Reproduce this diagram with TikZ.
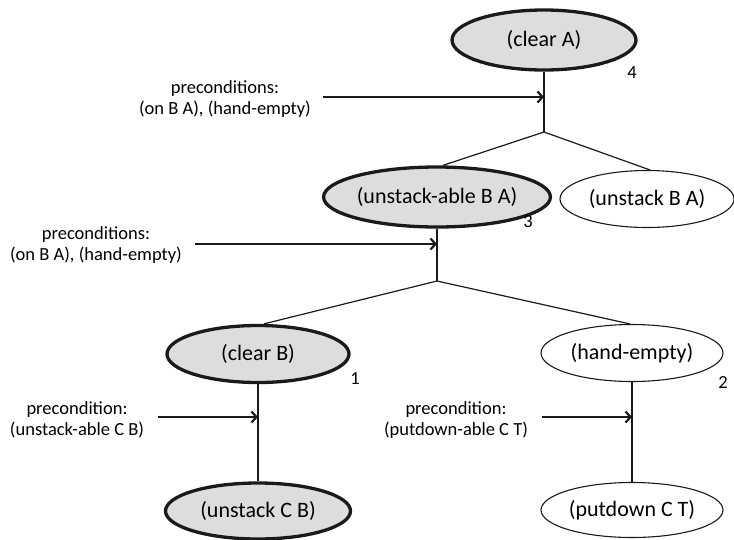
\documentclass[tikz,border=0pt]{standalone}
\usepackage{fontspec}
\setmainfont{Carlito}
\usetikzlibrary{shapes.geometric,arrows.meta}
\definecolor{nodegray}{HTML}{DDDDDD}
\definecolor{ink}{HTML}{1A1A1A}
\tikzset{
  goal/.style={ellipse, draw=ink, inner sep=0pt, font=\fontsize{22}{26}\selectfont},
  solved/.style={goal, line width=3.3pt, fill=nodegray},
  open/.style={goal, line width=1.1pt, fill=white},
  note/.style={align=center, inner sep=0pt, font=\fontsize{18.5}{21}\selectfont},
  num/.style={inner sep=0pt, font=\fontsize{18.5}{21}\selectfont},
  link/.style={draw=ink, line width=1.2pt},
  pre/.style={draw=ink, line width=1.4pt, -{Straight Barb[length=5pt,width=11pt,line width=2.2pt]}},
}
\begin{document}
\begin{tikzpicture}[x=1pt,y=-1pt]
\useasboundingbox (0,0) rectangle (734,539);
% goal nodes
\node[solved, minimum width=184pt, minimum height=60pt] (cA) at (544,40) {(clear A)};
\node[solved, minimum width=187pt, minimum height=60pt] (ua) at (437,197) {(unstack-able B A)};
\node[open, minimum width=174pt, minimum height=57pt] (uBA) at (647,199) {(unstack B A)};
\node[solved, minimum width=182pt, minimum height=57pt] (cB) at (258,354) {(clear B)};
\node[open, minimum width=182pt, minimum height=57pt] (hE) at (632,353) {(hand-empty)};
\node[solved, minimum width=185pt, minimum height=56pt] (uCB) at (258,511) {(unstack C B)};
\node[open, minimum width=182pt, minimum height=55pt] (pdC) at (632,510) {(putdown C T)};
% numbers
\node[num] (n4) at (632,73) {4};
\node[num] (n3) at (528,222) {3};
\node[num] (n1) at (355,379) {1};
\node[num] (n2) at (723,382) {2};
% precondition notes
\node[note] (p4) at (225,99) {preconditions:\\(on B A), (hand-empty)};
\node[note] (p3) at (96,245) {preconditions:\\(on B A), (hand-empty)};
\node[note] (p1) at (77,420) {precondition:\\(unstack-able C B)};
\node[note] (p2) at (456,420) {precondition:\\(putdown-able C T)};
% junction coordinates
\coordinate (b4) at (544,132);
\coordinate (b3) at (437,281);
\coordinate (t4) at (544,97);
\coordinate (t3) at (437,244);
\coordinate (t1) at (258,417);
\coordinate (t2) at (632,417);
\coordinate (s4) at (323,97);
\coordinate (s3) at (195,244);
\coordinate (s1) at (158,417);
\coordinate (s2) at (542,417);
% tree links
\draw[link] (cA.south) -- (b4);
\draw[link] (b4) -- ([xshift=6pt]ua.north);
\draw[link] (b4) -- ([xshift=3pt]uBA.north);
\draw[link] (ua.south) -- (b3);
\draw[link] (b3) -- ([xshift=6pt]cB.north);
\draw[link] (b3) -- ([xshift=-2pt]hE.north);
\draw[link] (cB.south) -- (uCB.north);
\draw[link] (hE.south) -- (pdC.north);
% precondition arrows
\draw[pre] (s4) -- (t4);
\draw[pre] (s3) -- (t3);
\draw[pre] (s1) -- (t1);
\draw[pre] (s2) -- (t2);
\end{tikzpicture}
\end{document}
